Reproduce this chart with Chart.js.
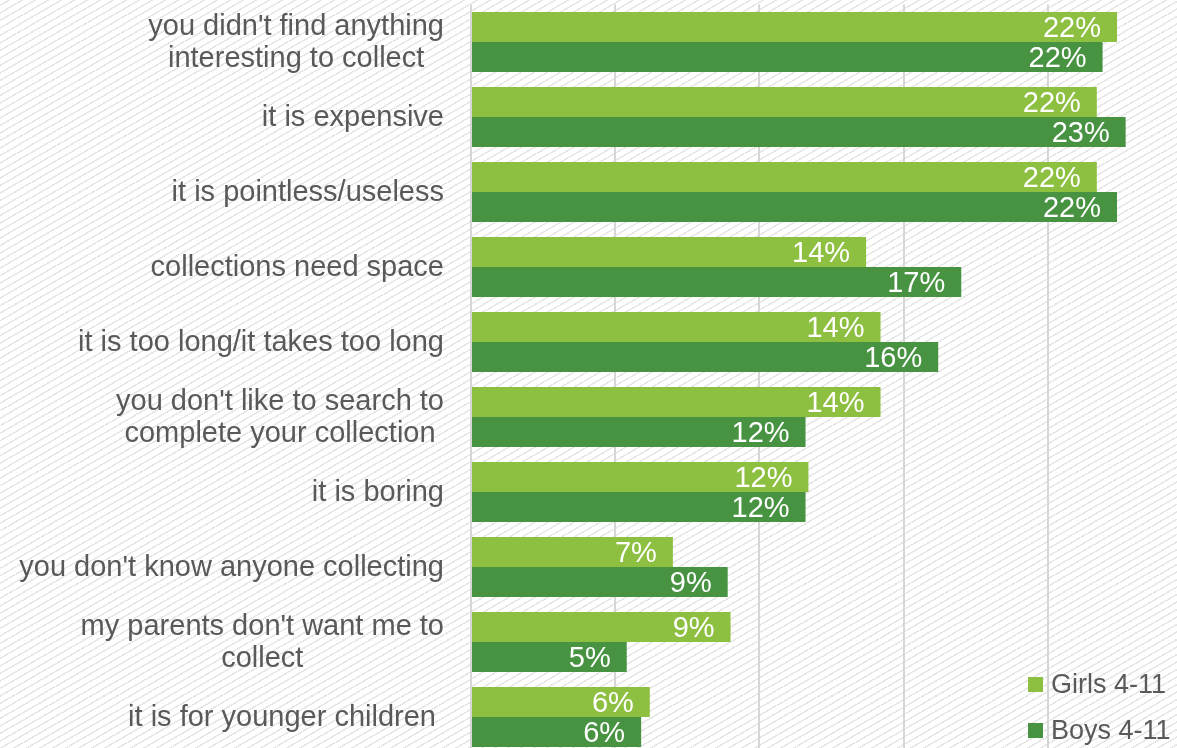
<!DOCTYPE html>
<html>
<head>
<meta charset="utf-8">
<script src="https://cdn.jsdelivr.net/npm/chart.js@4/dist/chart.umd.min.js"></script>
<style>
  html, body {
    margin: 0;
    padding: 0;
    width: 1177px;
    height: 748px;
    overflow: hidden;
    background-color: #ffffff;
    background-image: repeating-linear-gradient(150deg, #ffffff 0px, #ffffff 4px, #e6e6e6 4px, #e6e6e6 5.5px, #ffffff 5.5px, #ffffff 6.5px);
  }
  #wrap {
    position: absolute;
    left: 0;
    top: 0;
    width: 1200px;
    height: 760px;
  }
</style>
</head>
<body>
<div id="wrap"><canvas id="chart" width="1200" height="760"></canvas></div>
<script>
// Reasons given for not collecting (percent of respondents)
const categories = [
  ["you didn't find anything", "interesting to collect"],
  "it is expensive",
  "it is pointless/useless",
  "collections need space",
  "it is too long/it takes too long",
  ["you don't like to search to", "complete your collection"],
  "it is boring",
  "you don't know anyone collecting",
  ["my parents don't want me to", "collect"],
  "it is for younger children "
];
const girls = [22.4, 21.7, 21.7, 13.7, 14.2, 14.2, 11.7, 7.0, 9.0, 6.2];
const boys  = [21.9, 22.7, 22.4, 17.0, 16.2, 11.6, 11.6, 8.9, 5.4, 5.9];
const seriesNames = ["Girls 4-11", "Boys 4-11"];
const seriesColors = ["#8dbf41", "#479342"];
const xTicks = [0, 5, 10, 15, 20, 25];

const TEXT_COLOR = "#595959";
const FONT_FAMILY = "'Liberation Sans', Arial, sans-serif";

// Category labels: multi-line labels are centred on their widest line,
// with the block right-aligned against the axis.
const categoryLabels = {
  id: "categoryLabels",
  afterDraw(chart) {
    const ctx = chart.ctx;
    const yScale = chart.scales.y;
    const right = 444;
    const lineH = 32;
    ctx.save();
    ctx.font = "29px " + FONT_FAMILY;
    ctx.fillStyle = TEXT_COLOR;
    ctx.textBaseline = "middle";
    categories.forEach((label, i) => {
      const yc = yScale.getPixelForValue(i);
      const lines = Array.isArray(label) ? label : [label];
      if (lines.length === 1) {
        ctx.textAlign = "right";
        ctx.fillText(lines[0], right, yc + 1);
      } else {
        const maxW = Math.max(...lines.map(l => ctx.measureText(l).width));
        const cx = right - maxW / 2;
        ctx.textAlign = "center";
        const top = yc - (lines.length - 1) * lineH / 2;
        lines.forEach((l, k) => ctx.fillText(l, cx, top + k * lineH + 1));
      }
    });
    ctx.restore();
  }
};

// Value labels inside the end of each bar
const valueLabels = {
  id: "valueLabels",
  afterDatasetsDraw(chart) {
    const ctx = chart.ctx;
    ctx.save();
    ctx.font = "29px " + FONT_FAMILY;
    ctx.fillStyle = "#ffffff";
    ctx.textAlign = "right";
    ctx.textBaseline = "middle";
    chart.data.datasets.forEach((ds, di) => {
      const meta = chart.getDatasetMeta(di);
      meta.data.forEach((bar, i) => {
        const txt = Math.round(ds.data[i]) + "%";
        ctx.fillText(txt, bar.x - 16, bar.y + 2);
      });
    });
    ctx.restore();
  }
};

// Legend in the lower right corner
const cornerLegend = {
  id: "cornerLegend",
  afterDraw(chart) {
    const ctx = chart.ctx;
    ctx.save();
    ctx.font = "27px " + FONT_FAMILY;
    ctx.textAlign = "left";
    ctx.textBaseline = "middle";
    const rows = [685, 731];
    seriesNames.forEach((name, i) => {
      ctx.fillStyle = seriesColors[i];
      ctx.fillRect(1028, rows[i] - 8, 15, 15);
      ctx.fillStyle = TEXT_COLOR;
      ctx.fillText(name, 1051, rows[i] + 1);
    });
    ctx.restore();
  }
};

new Chart(document.getElementById("chart"), {
  type: "bar",
  data: {
    labels: categories.map(c => Array.isArray(c) ? c.join(" ") : c),
    datasets: [
      { label: seriesNames[0], data: girls, backgroundColor: seriesColors[0],
        categoryPercentage: 0.8, barPercentage: 1.0, borderWidth: 0 },
      { label: seriesNames[1], data: boys, backgroundColor: seriesColors[1],
        categoryPercentage: 0.8, barPercentage: 1.0, borderWidth: 0 }
    ]
  },
  options: {
    indexAxis: "y",
    responsive: false,
    animation: false,
    events: [],
    layout: { padding: { top: 4.5, bottom: 5.5, left: 471, right: 8 } },
    plugins: {
      legend: { display: false },
      tooltip: { enabled: false },
      title: { display: false }
    },
    scales: {
      x: {
        min: xTicks[0],
        max: xTicks[xTicks.length - 1],
        afterBuildTicks: (scale) => { scale.ticks = xTicks.map(v => ({ value: v })); },
        ticks: { display: false },
        grid: { color: "#d6d6d6", lineWidth: 2, drawTicks: false },
        border: { display: false }
      },
      y: {
        ticks: { display: false },
        grid: { display: false, drawTicks: false },
        border: { display: false }
      }
    }
  },
  plugins: [categoryLabels, valueLabels, cornerLegend]
});
</script>
</body>
</html>
